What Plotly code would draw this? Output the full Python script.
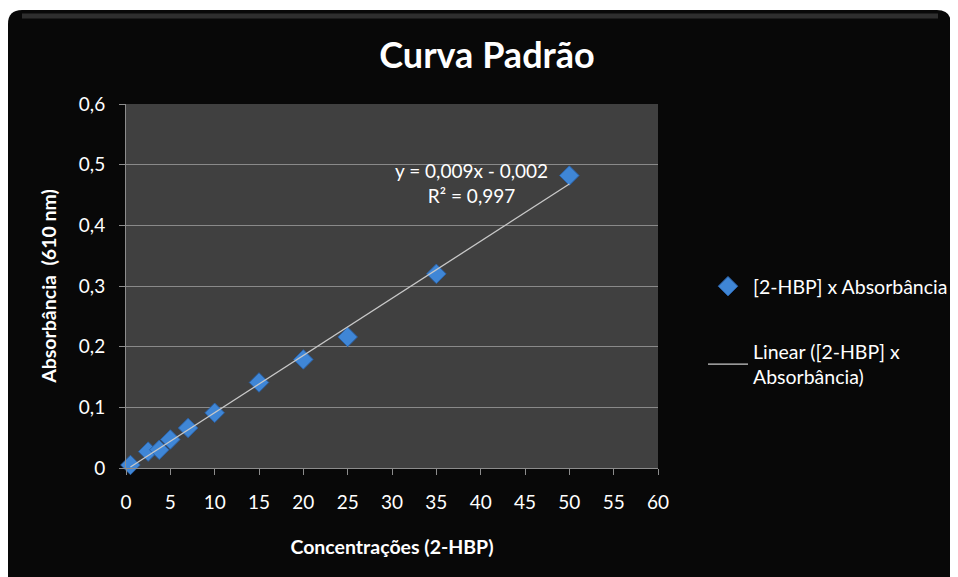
import numpy as np
import plotly.graph_objects as go

# Data
concentracao = [0.5, 2.5, 3.75, 5, 7, 10, 15, 20, 25, 35, 50]
absorbancia = [0.005, 0.027, 0.030, 0.047, 0.066, 0.091, 0.141, 0.179, 0.216, 0.320, 0.482]
x_ticks = [0, 5, 10, 15, 20, 25, 30, 35, 40, 45, 50, 55, 60]
y_ticks = [0, 0.1, 0.2, 0.3, 0.4, 0.5, 0.6]
y_tick_labels = ["0", "0,1", "0,2", "0,3", "0,4", "0,5", "0,6"]
equation_text = "y = 0,009x - 0,002<br>R² = 0,997"

# Linear trendline (least squares) over the data range
slope, intercept = np.polyfit(concentracao, absorbancia, 1)
trend_x = [min(concentracao), max(concentracao)]
trend_y = [slope * v + intercept for v in trend_x]

FONT = "Lato, 'Open Sans', sans-serif"

fig = go.Figure()
fig.add_trace(go.Scatter(
    x=concentracao, y=absorbancia, mode="markers",
    name="[2-HBP] x Absorbância",
    legendgroup="a",
    cliponaxis=False,
    marker=dict(symbol="diamond", size=15, color="#3f86d6",
                line=dict(color="#2a62a8", width=1)),
))
fig.add_trace(go.Scatter(
    x=trend_x, y=trend_y, mode="lines",
    name="Linear ([2-HBP] x<br>Absorbância)",
    legendgroup="b",
    line=dict(color="#c8c8c8", width=1.3),
))

# page-pixel helpers for background shapes (plot area on page: x 126..658, y 104..468)
def px(v):
    return (v - 126) / 532.0

def py(v):
    return (468 - v) / 364.0

x0, x1 = px(8), px(951)
y0, y1 = py(600), py(10)
rx, ry = 14 / 532.0, 14 / 364.0
path = (f"M {x0},{y1-ry} Q {x0},{y1} {x0+rx},{y1} L {x1-rx},{y1} "
        f"Q {x1},{y1} {x1},{y1-ry} L {x1},{y0+ry} Q {x1},{y0} {x1-rx},{y0} "
        f"L {x0+rx},{y0} Q {x0},{y0} {x0},{y0+ry} Z")

H = 577
fig.update_layout(
    width=958, height=H,
    paper_bgcolor="white",
    plot_bgcolor="rgba(0,0,0,0)",
    separators=",.",
    margin=dict(l=118, r=308, t=96, b=H - 460),
    font=dict(family=FONT, color="white", size=16),
    title=dict(text="<b>Curva Padrão</b>", x=0.5, xanchor="center",
               y=1 - 47.0 / H, yanchor="middle",
               font=dict(family=FONT, size=36, color="white")),
    shapes=[
        dict(type="path", xref="paper", yref="paper", path=path,
             fillcolor="#080808", line=dict(width=0), layer="below"),
        dict(type="line", xref="paper", yref="paper",
             x0=px(22), x1=px(938), y0=py(16), y1=py(16),
             line=dict(color="#2e2e2e", width=5), layer="below"),
        dict(type="rect", xref="paper", yref="paper", x0=0, x1=1, y0=0, y1=1,
             fillcolor="#404040", line=dict(width=0), layer="below"),
    ],
    xaxis=dict(
        range=[0, 60], tickvals=x_ticks, ticks="outside", ticklen=6,
        tickcolor="#8c8c8c", showline=True, linecolor="#8c8c8c", linewidth=1,
        showgrid=False, zeroline=False, ticklabelstandoff=11,
        tickfont=dict(size=19, color="white", family=FONT),
        title=dict(text="<b>Concentrações (2-HBP)</b>", standoff=28,
                   font=dict(size=19.5, color="white", family=FONT)),
    ),
    yaxis=dict(
        range=[0, 0.6], tickvals=y_ticks, ticktext=y_tick_labels,
        ticks="outside", ticklen=6, tickcolor="#8c8c8c",
        showline=True, linecolor="#8c8c8c", linewidth=1,
        showgrid=True, gridcolor="#8a8a8a", gridwidth=1, zeroline=False,
        ticklabelstandoff=10,
        tickfont=dict(size=19, color="white", family=FONT),
        title=dict(text="<b>Absorbância  (610 nm)</b>", standoff=17,
                   font=dict(size=19.5, color="white", family=FONT)),
    ),
    legend=dict(
        x=px(703), y=py(267), xanchor="left", yanchor="top",
        bgcolor="rgba(0,0,0,0)", font=dict(size=19.5, color="white", family=FONT),
        tracegroupgap=37, itemwidth=40, traceorder="grouped",
    ),
    annotations=[dict(
        x=39.0, y=0.47, xref="x", yref="y", text=equation_text,
        showarrow=False, align="center",
        font=dict(size=19, color="white", family=FONT),
    )],
)

fig.write_html("out.html")
